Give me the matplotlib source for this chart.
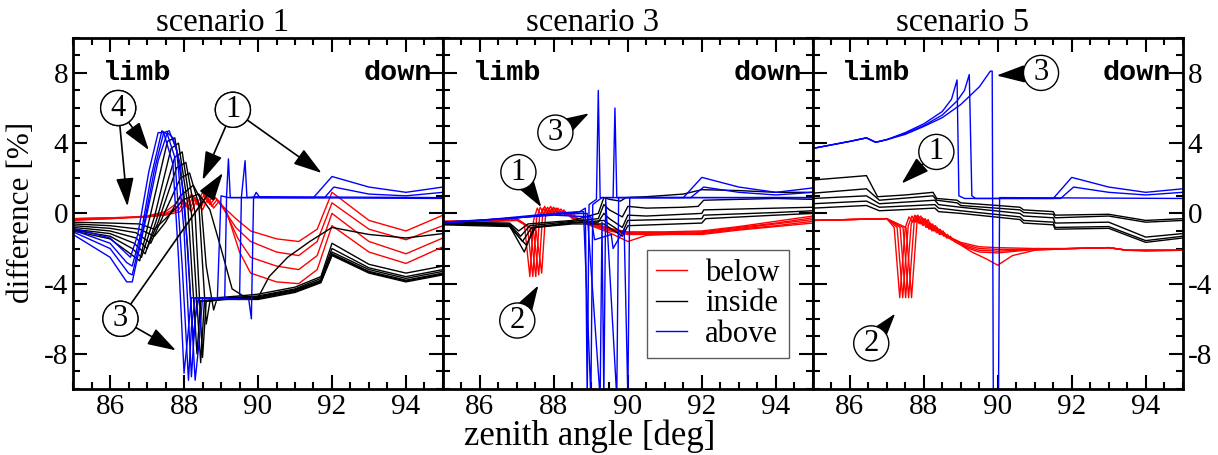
import matplotlib
matplotlib.use("Agg")
import matplotlib.pyplot as plt
from matplotlib.lines import Line2D
from matplotlib.ticker import MultipleLocator

plt.rcParams["font.family"] = ["Liberation Serif", "DejaVu Serif"]
plt.rcParams["axes.unicode_minus"] = False

# --- scenario 1 -------------------------------------------------------------
S1_RED = [
    ([85, 86, 87, 87.5, 87.75, 87.9, 88.05, 88.2, 88.35, 88.5, 88.65, 88.8, 89.0, 89.4, 89.8, 90.5, 91.1, 91.6, 92.0, 93.0, 94.0, 95.0],
     [-0.4, -0.3, -0.15, 0.1, 0.5, 0.9, 0.4, 1.1, 0.5, 1.2, 0.6, 1.0, 0.5, -0.3, -1.0, -1.45, -1.6, -0.9, 1.2, -0.4, -1.0, -0.1]),
    ([85, 86, 87, 87.5, 87.8, 87.95, 88.1, 88.25, 88.4, 88.55, 88.7, 88.85, 89.05, 89.4, 89.8, 90.5, 91.1, 91.6, 92.0, 93.0, 94.0, 95.0],
     [-0.35, -0.3, -0.2, 0.0, 0.3, 0.8, 0.3, 1.0, 0.4, 1.1, 0.5, 0.9, 0.3, -0.8, -1.6, -2.2, -2.4, -1.6, 0.6, -0.9, -1.5, -0.7]),
    ([85, 86, 87, 87.5, 87.85, 88.0, 88.15, 88.3, 88.45, 88.6, 88.75, 88.9, 89.1, 89.45, 89.8, 90.5, 91.1, 91.6, 92.0, 93.0, 94.0, 95.0],
     [-0.3, -0.25, -0.2, -0.05, 0.2, 0.7, 0.2, 0.9, 0.3, 1.0, 0.4, 0.8, 0.2, -1.4, -2.5, -3.0, -3.2, -2.4, 0.0, -1.6, -2.3, -1.4]),
    ([85, 86, 87, 87.5, 87.9, 88.05, 88.2, 88.35, 88.5, 88.65, 88.8, 88.95, 89.15, 89.5, 89.8, 90.5, 91.1, 91.6, 92.0, 93.0, 94.0, 95.0],
     [-0.3, -0.25, -0.2, -0.1, 0.1, 0.6, 0.1, 0.8, 0.2, 0.9, 0.3, 0.7, 0.1, -2.2, -3.4, -3.9, -4.0, -3.2, -0.7, -2.2, -2.85, -1.9]),
]
S1_BLACK = [
    ([85, 86, 86.8, 87.2, 87.5, 88.0, 88.4, 88.7, 89.0, 89.3, 89.6, 90.0, 90.3, 90.8, 91.4, 92.0, 93, 94, 95],
     [-0.5, -0.55, -0.6, -0.9, -0.3, 0.8, 1.1, 0.2, -2.0, -4.3, -4.7, -4.8, -3.6, -2.5, -1.6, -0.8, -1.2, -1.4, -1.15]),
    ([85, 86, 86.8, 87.2, 87.5, 87.9, 88.25, 88.45, 88.6, 88.8, 88.9, 89.5, 90.0, 91, 91.7, 92, 93, 94, 95],
     [-0.6, -0.7, -0.9, -1.3, -0.5, 1.0, 1.6, 0.8, -3.0, -5.5, -4.8, -4.7, -4.6, -4.2, -3.6, -1.7, -2.9, -3.4, -3.0]),
    ([85, 86, 86.7, 87.1, 87.4, 87.9, 88.15, 88.4, 88.6, 88.7, 89.3, 90, 91, 91.7, 92, 93, 94, 95],
     [-0.7, -0.85, -1.1, -1.7, -0.3, 2.0, 2.3, 0.5, -6.3, -5.0, -4.8, -4.7, -4.3, -3.7, -2.0, -3.1, -3.6, -3.2]),
    ([85, 86, 86.7, 87.0, 87.3, 87.8, 88.05, 88.3, 88.5, 88.6, 89.2, 90, 91, 91.7, 92, 93, 94, 95],
     [-0.8, -1.0, -1.4, -2.0, -0.5, 2.6, 2.9, 0.0, -8.2, -5.0, -4.8, -4.75, -4.35, -3.8, -2.2, -3.2, -3.7, -3.3]),
    ([85, 86, 86.65, 86.95, 87.25, 87.75, 87.95, 88.2, 88.45, 88.55, 89.1, 90, 91, 91.7, 92, 93, 94, 95],
     [-0.9, -1.15, -1.7, -2.3, -0.4, 3.2, 3.5, 0.0, -8.5, -5.0, -4.9, -4.8, -4.4, -3.85, -2.3, -3.3, -3.8, -3.4]),
    ([85, 86, 86.6, 86.85, 87.2, 87.65, 87.85, 88.1, 88.35, 88.45, 89.0, 90, 91, 91.7, 92, 93, 94, 95],
     [-0.95, -1.3, -2.0, -2.5, -0.2, 3.7, 4.0, 0.5, -8.0, -5.0, -4.9, -4.85, -4.45, -3.9, -2.35, -3.35, -3.85, -3.45]),
    ([85, 86, 86.55, 86.8, 87.1, 87.55, 87.75, 88.0, 88.25, 88.35, 88.9, 90, 91, 91.7, 92, 93, 94, 95],
     [-1.0, -1.45, -2.3, -2.7, 0.0, 4.1, 4.3, 1.0, -7.2, -5.0, -4.9, -4.9, -4.5, -3.95, -2.4, -3.4, -3.9, -3.5]),
]
S1_BLUE = [
    ([85, 86, 86.4, 86.55, 86.75, 87.05, 87.3, 87.45, 87.7, 87.85, 88.0, 88.1, 88.2, 88.9, 89.0, 89.2, 91.5, 92, 93, 94, 95],
     [-0.85, -1.4, -2.2, -2.5, -1.2, 2.4, 4.6, 4.6, 2.8, -2.5, -9.1, -7.0, -4.8, -4.9, 1.0, 0.9, 0.9, 2.1, 1.5, 1.2, 1.5]),
    ([85, 86, 86.45, 86.6, 86.85, 87.1, 87.4, 87.55, 87.75, 87.95, 88.12, 88.2, 88.3, 89.1, 89.15, 89.2, 89.25, 89.4, 91.8, 92.05, 93, 94, 95],
     [-0.95, -1.7, -2.8, -3.0, -1.0, 2.0, 4.7, 4.5, 3.2, -3.0, -9.5, -6.5, -4.8, -4.85, 1.0, 3.1, 0.9, 0.9, 0.9, 1.5, 1.1, 1.0, 1.2]),
    ([85, 86, 86.5, 86.6, 86.9, 87.2, 87.45, 87.6, 87.8, 88.0, 88.2, 88.3, 88.4, 89.5, 89.55, 89.65, 89.7, 90.0, 95],
     [-1.05, -2.0, -3.4, -3.5, -0.8, 2.5, 4.6, 4.7, 3.6, -1.0, -9.3, -6.0, -4.8, -4.9, 0.9, 3.0, 0.9, 0.95, 0.9]),
    ([85, 86, 86.45, 86.6, 86.95, 87.3, 87.55, 87.7, 87.9, 88.1, 88.3, 88.4, 88.5, 89.75, 89.82, 89.88, 89.95, 90.05, 95],
     [-1.2, -2.5, -3.9, -3.9, -0.5, 3.0, 4.6, 4.3, 2.8, -2.0, -9.5, -7.5, -4.8, -4.9, -6.0, 0.9, 1.2, 0.9, 0.85]),
]

# --- scenario 3 -------------------------------------------------------------
S3_RED = [
    ([85, 86, 87.0, 87.2, 87.35, 87.45, 87.55, 87.65, 87.75, 87.85, 87.95, 88.05, 88.2, 88.5, 89.0, 89.5, 90.0, 91.0, 92.0, 93.0, 94.0, 95.0],
     [-0.45, -0.4, -0.3, -0.6, -3.6, -0.4, 0.3, -0.1, 0.4, 0.0, 0.3, -0.1, 0.1, -0.2, -0.5, -0.85, -1.05, -1.05, -1.0, -0.75, -0.45, -0.15]),
    ([85, 86, 87.0, 87.28, 87.43, 87.53, 87.63, 87.73, 87.83, 87.93, 88.03, 88.13, 88.25, 88.5, 89.0, 89.5, 90.0, 91.0, 92.0, 93.0, 94.0, 95.0],
     [-0.45, -0.42, -0.32, -0.7, -3.6, -0.3, 0.35, -0.05, 0.35, 0.0, 0.3, -0.05, 0.1, -0.25, -0.55, -0.9, -1.1, -1.1, -1.05, -0.8, -0.55, -0.25]),
    ([85, 86, 87.0, 87.36, 87.51, 87.61, 87.71, 87.81, 87.91, 88.01, 88.11, 88.21, 88.3, 88.5, 89, 89.5, 90, 91, 92, 93, 94, 95],
     [-0.5, -0.45, -0.35, -0.8, -3.6, -0.2, 0.3, 0.0, 0.4, 0.05, 0.3, 0.0, 0.1, -0.3, -0.6, -0.95, -1.15, -1.15, -1.1, -0.85, -0.6, -0.35]),
    ([85, 86, 87.0, 87.44, 87.59, 87.69, 87.79, 87.89, 87.99, 88.09, 88.19, 88.29, 88.4, 88.6, 89, 89.5, 90, 91, 92, 93, 94, 95],
     [-0.5, -0.45, -0.35, -0.9, -3.5, -0.2, 0.25, -0.05, 0.35, 0.0, 0.25, -0.05, 0.05, -0.35, -0.65, -1.0, -1.2, -1.2, -1.15, -0.9, -0.7, -0.45]),
    ([85, 86, 87.0, 87.52, 87.67, 87.77, 87.87, 87.97, 88.07, 88.17, 88.27, 88.37, 88.5, 88.7, 89, 89.5, 90, 90.5, 91, 92, 93, 94, 95],
     [-0.55, -0.5, -0.4, -1.0, -3.4, -0.2, 0.2, -0.1, 0.3, -0.05, 0.2, -0.1, 0.0, -0.4, -0.7, -1.1, -1.6, -1.25, -1.2, -1.2, -0.95, -0.75, -0.55]),
]
S3_BLACK = [
    ([85, 86.8, 87.05, 87.3, 88.5, 89.2, 89.35, 89.5, 89.8, 89.95, 90.5, 91.5, 92, 93, 94, 95],
     [-0.5, -0.55, -1.0, -0.6, -0.4, 0.0, 0.9, 0.8, 0.7, 0.9, 0.95, 1.1, 1.35, 1.3, 1.2, 1.2]),
    ([85, 86.8, 87.1, 87.35, 88.5, 89.2, 89.35, 89.5, 89.85, 90.0, 90.5, 91.5, 91.9, 92.05, 93, 94, 95],
     [-0.55, -0.6, -1.3, -0.7, -0.45, -0.3, 0.5, 0.2, -0.2, 0.4, 0.3, 0.35, 0.4, 0.75, 0.8, 0.85, 0.8]),
    ([85, 86.8, 87.15, 87.4, 88.5, 89.2, 89.35, 89.5, 89.85, 90.0, 90.5, 92, 92.05, 94, 95],
     [-0.6, -0.65, -1.6, -0.8, -0.5, -0.5, 0.0, -0.3, -0.8, -0.1, -0.15, 0.0, 0.2, 0.3, 0.35]),
    ([85, 86.8, 87.2, 87.45, 88.5, 89.35, 89.85, 90.0, 92, 92.05, 94, 95],
     [-0.6, -0.7, -2.2, -0.8, -0.55, -0.4, -1.1, -0.4, -0.3, -0.1, 0.05, 0.15]),
    ([85, 86.8, 87.25, 87.5, 88.5, 89.35, 89.85, 90.0, 92, 92.1, 94, 95],
     [-0.65, -0.75, -1.8, -0.8, -0.6, -0.6, -1.3, -0.7, -0.55, -0.3, -0.1, 0.0]),
]
S3_BLUE = [
    ([85, 86, 87, 88, 88.7, 88.85, 88.9, 88.95, 89.15, 89.2, 89.25, 91.5, 92, 93, 94, 95],
     [-0.5, -0.4, -0.2, 0.0, 0.1, 0.3, -10.5, 0.5, 0.8, 7.0, 0.9, 0.9, 2.05, 1.5, 1.2, 1.45]),
    ([85, 87, 88, 88.8, 89.0, 89.05, 89.3, 89.6, 89.65, 89.7, 91.7, 92.05, 93, 94, 95],
     [-0.55, -0.25, -0.05, 0.1, -10.5, 0.5, 0.9, 0.9, 6.0, 0.9, 0.9, 1.5, 1.2, 1.05, 1.2]),
    ([85, 87, 88, 88.9, 89.25, 89.3, 89.35, 89.4, 89.7, 89.75, 95],
     [-0.5, -0.25, -0.05, 0.0, -10.5, -0.5, -10.5, 0.8, -10.5, 0.9, 0.9]),
    ([85, 88, 89.0, 89.1, 89.55, 89.6, 89.9, 90.0, 90.05, 95],
     [-0.55, -0.1, -0.2, -1.5, -1.2, -2.0, -0.9, -10.5, 0.9, 0.9]),
]

# --- scenario 5 -------------------------------------------------------------
S5_RED = [
    ([85, 86, 87.0, 87.2, 87.35, 87.5, 87.6, 87.7, 87.8, 87.9, 88.0, 88.1, 88.2, 88.3, 88.4, 88.5, 88.7, 89.0, 89.5, 90.0, 91.0, 92.0, 93.0, 93.5, 94.0, 95.0],
     [-0.4, -0.35, -0.3, -0.8, -4.8, -0.8, -0.2, -0.5, -0.15, -0.6, -0.3, -0.8, -0.6, -1.0, -0.9, -1.2, -1.35, -1.65, -1.9, -1.95, -2.0, -2.0, -1.95, -2.1, -2.1, -2.1]),
    ([85, 86, 87.0, 87.28, 87.43, 87.58, 87.68, 87.78, 87.88, 87.98, 88.08, 88.18, 88.28, 88.38, 88.48, 88.58, 88.78, 89.05, 89.5, 90.0, 91.0, 92.0, 93.0, 93.5, 94.0, 95.0],
     [-0.4, -0.35, -0.3, -0.8, -4.8, -0.7, -0.15, -0.5, -0.2, -0.7, -0.4, -0.9, -0.7, -1.1, -1.0, -1.3, -1.45, -1.75, -2.0, -2.05, -2.05, -2.0, -1.95, -2.1, -2.1, -2.1]),
    ([85, 86, 87.0, 87.36, 87.51, 87.66, 87.76, 87.86, 87.96, 88.06, 88.16, 88.26, 88.36, 88.46, 88.56, 88.66, 88.86, 89.1, 89.5, 90.0, 91.0, 92.0, 93.0, 93.5, 94.0, 95.0],
     [-0.4, -0.35, -0.3, -0.8, -4.8, -0.6, -0.1, -0.55, -0.25, -0.8, -0.5, -1.0, -0.8, -1.2, -1.1, -1.4, -1.55, -1.85, -2.1, -2.15, -2.05, -2.0, -1.95, -2.1, -2.1, -2.1]),
    ([85, 86, 87.0, 87.44, 87.59, 87.74, 87.84, 87.94, 88.04, 88.14, 88.24, 88.34, 88.44, 88.54, 88.64, 88.74, 88.94, 89.15, 89.5, 90.0, 91.0, 92.0, 93.0, 93.5, 94.0, 95.0],
     [-0.4, -0.35, -0.3, -0.8, -4.8, -0.5, -0.1, -0.6, -0.3, -0.9, -0.6, -1.1, -0.9, -1.3, -1.2, -1.5, -1.65, -1.95, -2.2, -2.25, -2.05, -2.0, -1.95, -2.1, -2.1, -2.1]),
    ([85, 86, 87.0, 87.52, 87.67, 87.82, 87.92, 88.02, 88.12, 88.22, 88.32, 88.42, 88.52, 88.62, 88.72, 88.82, 89.0, 89.3, 89.7, 90.0, 90.4, 91.0, 92.0, 93.0, 93.5, 94.0, 95.0],
     [-0.4, -0.35, -0.3, -0.8, -4.8, -0.4, -0.15, -0.65, -0.35, -1.0, -0.7, -1.2, -1.0, -1.4, -1.3, -1.6, -1.8, -2.2, -2.6, -2.95, -2.4, -2.1, -2.0, -1.95, -2.1, -2.15, -2.1]),
]
S5_BLACK = [
    ([85, 86.45, 86.75, 87.5, 88.25, 88.35, 88.9, 89.0, 90.0, 90.6, 90.7, 91.5, 91.55, 93.0, 94, 95],
     [1.9, 2.15, 0.95, 1.05, 1.2, 0.85, 0.75, 0.6, 0.45, 0.35, 0.2, 0.1, -0.1, -0.05, -0.4, -0.3]),
    ([85, 86.45, 86.8, 88.25, 88.35, 88.9, 89.0, 90.6, 90.7, 91.5, 91.55, 93.0, 94, 95],
     [1.15, 1.4, 0.75, 1.0, 0.75, 0.6, 0.45, 0.2, 0.05, -0.05, -0.25, -0.15, -0.5, -0.4]),
    ([85, 86.45, 86.8, 88.3, 88.4, 89.0, 90.6, 90.7, 91.5, 91.55, 93.0, 94, 95],
     [0.85, 1.0, 0.55, 0.75, 0.5, 0.35, 0.0, -0.15, -0.25, -0.55, -0.5, -1.35, -1.15]),
    ([85, 86.45, 86.8, 88.3, 88.4, 89.0, 90.6, 90.7, 91.5, 91.55, 93.0, 94, 95],
     [0.55, 0.7, 0.35, 0.5, 0.3, 0.15, -0.2, -0.4, -0.5, -0.8, -0.75, -1.55, -1.3]),
    ([85, 86.45, 86.8, 88.3, 88.4, 89.0, 90.6, 90.7, 91.5, 91.55, 93.0, 94, 95],
     [0.3, 0.45, 0.15, 0.3, 0.1, 0.0, -0.35, -0.55, -0.65, -0.9, -0.85, -1.65, -1.4]),
]
S5_BLUE = [
    ([85, 86.0, 86.45, 86.7, 87.0, 87.5, 88.0, 88.5, 88.75, 88.9, 88.95, 89.1, 91.5, 92, 93, 94, 95],
     [3.7, 4.1, 4.3, 4.05, 4.2, 4.6, 5.1, 5.8, 6.5, 7.6, 1.0, 0.85, 0.85, 2.05, 1.5, 1.2, 1.4]),
    ([85, 86.0, 86.45, 86.7, 87.0, 87.5, 88.0, 88.5, 88.9, 89.1, 89.23, 89.3, 89.4, 91.7, 92.05, 93, 94, 95],
     [3.7, 4.1, 4.3, 4.05, 4.2, 4.55, 5.0, 5.6, 6.4, 7.0, 7.9, 1.0, 0.85, 0.85, 1.5, 1.2, 1.05, 1.2]),
    ([85, 86, 86.45, 86.7, 87, 87.5, 88.0, 88.5, 89.0, 89.5, 89.8, 89.85, 89.88, 90.02, 90.05, 95],
     [3.7, 4.1, 4.3, 4.05, 4.2, 4.5, 4.95, 5.45, 6.2, 7.2, 8.1, 8.1, -10.5, -10.5, 0.9, 0.85]),
]

TITLES = ["scenario 1", "scenario 3", "scenario 5"]
SERIES_LABELS = ["below", "inside", "above"]
SERIES_COLORS = ["#ff0000", "#000000", "#0000ff"]

# circled markers: (label, circle position, arrow tip)
S1_NOTES = [("4", (86.22, 6.0), (86.47, 0.4)), ("4", (86.22, 6.0), (87.05, 3.6)),
            ("1", (89.32, 5.9), (88.5, 1.9)), ("1", (89.32, 5.9), (91.72, 2.3)),
            ("3", (86.28, -6.0), (89.05, 2.3)), ("3", (86.28, -6.0), (87.78, -7.8))]
S3_NOTES = [("1", (87.04, 2.35), (87.66, 0.35)), ("3", (88.04, 4.6), (88.95, 5.7)),
            ("2", (87.01, -6.1), (87.58, -4.1))]
S5_NOTES = [("3", (91.17, 8.0), (89.97, 7.85)), ("1", (88.34, 3.5), (87.4, 1.7)),
            ("2", (86.58, -7.4), (87.23, -5.7))]


def draw_panel(ax, families, notes, title):
    for lines, color in zip(families, SERIES_COLORS):
        for xs, ys in lines:
            ax.plot(xs, ys, color=color, lw=1.0)

    ax.set_xlim(85, 95)
    ax.set_ylim(-10, 10)
    ax.xaxis.set_major_locator(MultipleLocator(2))
    ax.xaxis.set_minor_locator(MultipleLocator(0.5))
    ax.yaxis.set_major_locator(MultipleLocator(4))
    ax.yaxis.set_minor_locator(MultipleLocator(1))
    ax.tick_params(which="both", direction="in", top=True, right=True, width=1.5, labelsize=21)
    ax.tick_params(which="major", length=10)
    ax.tick_params(which="minor", length=5)
    for spine in ax.spines.values():
        spine.set_linewidth(2)
    ax.set_xticks([86, 88, 90, 92, 94])
    # titles sit a little left of the panel centre in the original
    ax.set_title(title, fontsize=23.5, pad=3, x=0.405)

    mono = dict(family=["Liberation Mono", "DejaVu Sans Mono"], fontweight="bold", fontsize=20.5)
    ax.text(0.08, 0.9, "limb", transform=ax.transAxes, ha="left", va="center", **mono)
    ax.text(0.97, 0.9, "down", transform=ax.transAxes, ha="right", va="center", **mono)

    for label, pos, tip in notes:
        ax.annotate(label, xy=tip, xytext=pos, fontsize=22, ha="center", va="center",
                    bbox=dict(boxstyle="circle,pad=0.1", fc="white", ec="black", lw=1),
                    arrowprops=dict(arrowstyle="-|>,head_length=0.8,head_width=0.25",
                                    color="black", lw=1.2, mutation_scale=22,
                                    shrinkA=0, shrinkB=0))


def main():
    fig, axes = plt.subplots(1, 3, figsize=(12.18, 4.55), dpi=100)
    fig.subplots_adjust(left=0.060, right=0.971, top=0.917, bottom=0.145, wspace=0)

    draw_panel(axes[0], [S1_RED, S1_BLACK, S1_BLUE], S1_NOTES, TITLES[0])
    draw_panel(axes[1], [S3_RED, S3_BLACK, S3_BLUE], S3_NOTES, TITLES[1])
    draw_panel(axes[2], [S5_RED, S5_BLACK, S5_BLUE], S5_NOTES, TITLES[2])

    axes[1].set_yticklabels([])
    axes[2].tick_params(axis="y", labelleft=False, labelright=True)
    fig.text(22 / 1218, 1 - 212 / 455, "difference [%]", fontsize=22.5,
             rotation=90, ha="center", va="center")
    fig.text(590 / 1218, 1 - 436 / 455, "zenith angle [deg]", fontsize=25,
             ha="center", va="center")

    handles = [Line2D([], [], color=c, lw=1.0) for c in SERIES_COLORS]
    leg = axes[1].legend(handles, SERIES_LABELS, loc="lower right", bbox_to_anchor=(0.935, 0.088),
                         fontsize=22, frameon=True, fancybox=False, handlelength=1.0,
                         labelspacing=0.05, borderpad=0.3, handletextpad=0.6, borderaxespad=0)
    leg.get_frame().set_edgecolor("#333333")
    leg.get_frame().set_linewidth(1.0)

    fig.savefig("out.png", dpi=100)


if __name__ == "__main__":
    main()
